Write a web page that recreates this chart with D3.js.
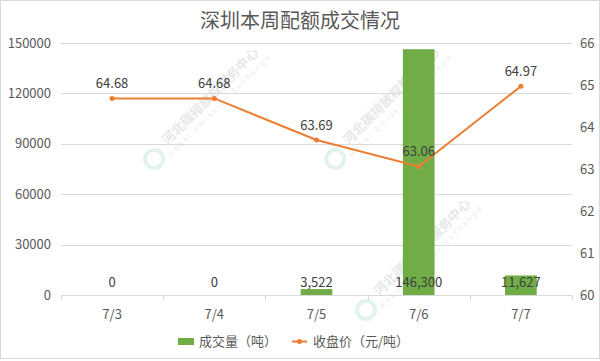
<!DOCTYPE html>
<html><head><meta charset="utf-8">
<script src="https://cdn.jsdelivr.net/npm/d3@7/dist/d3.min.js"></script>
<style>body{margin:0;background:#fff}svg{display:block}</style>
</head><body>
<svg id="c" width="600" height="361"></svg>
<script>
const categories = ["7/3","7/4","7/5","7/6","7/7"];
const volume = [0, 0, 3522, 146300, 11627];
const price = [64.68, 64.68, 63.69, 63.06, 64.97];
const leftTicks = [0, 30000, 60000, 90000, 120000, 150000];
const rightTicks = [60, 61, 62, 63, 64, 65, 66];
const title = "深圳本周配额成交情况";
const legendLabels = ["成交量（吨）", "收盘价（元/吨）"];

const svg = d3.select("#c");
const W = 600, H = 361;
const m = {l: 61, r: 28, t: 43, b: 66};
const font = "'Noto Sans CJK SC','Microsoft YaHei',sans-serif";

svg.append("rect").attr("x",0.5).attr("y",0.5).attr("width",W-1).attr("height",358).attr("fill","#fff").attr("stroke","#d9d9d9");

const x = d3.scaleBand().domain(categories).range([m.l, W-m.r]).paddingInner(0.69).paddingOuter(0.345);
const xb = d3.scaleBand().domain(categories).range([m.l, W-m.r]);
const yL = d3.scaleLinear().domain([0,150000]).range([H-m.b, m.t]);
const yR = d3.scaleLinear().domain([60,66]).range([H-m.b, m.t]);

// watermarks
const wm = [[210,96],[391,96],[422,247]];
wm.forEach(([cx,cy])=>{
  const g = svg.append("g").attr("transform",`translate(${cx},${cy}) rotate(-45)`).attr("opacity",0.6);
  g.append("text").attr("x",0).attr("y",5).attr("text-anchor","middle").attr("font-family",font).attr("font-size",13).attr("font-weight","bold").attr("fill","#d4d8da").text("河北碳排放权服务中心");
  g.append("text").attr("x",0).attr("y",16).attr("text-anchor","middle").attr("font-family","'DejaVu Sans',sans-serif").attr("font-size",7.5).attr("letter-spacing",2).attr("fill","#dadfe1").text("Hebei Emission Exchange");
  g.append("circle").attr("cx",-84).attr("cy",5).attr("r",9).attr("fill","none").attr("stroke","#cfeae0").attr("stroke-width",4);
});

// gridlines
svg.append("g").selectAll("line").data(leftTicks.slice(1)).join("line")
  .attr("x1",m.l).attr("x2",W-m.r).attr("y1",d=>Math.round(yL(d))+0.5).attr("y2",d=>Math.round(yL(d))+0.5)
  .attr("stroke","#d9d9d9").attr("stroke-width",1);

// x axis
const gx = svg.append("g").attr("transform",`translate(0,${Math.round(yL(0))+0.5})`);
gx.append("line").attr("x1",m.l).attr("x2",W-m.r).attr("stroke","#d9d9d9");
gx.selectAll("line.tk").data(d3.range(categories.length+1)).join("line").attr("class","tk")
  .attr("x1",i=>Math.round(m.l+i*xb.step())+0.5).attr("x2",i=>Math.round(m.l+i*xb.step())+0.5)
  .attr("y1",0).attr("y2",5).attr("stroke","#d9d9d9");
gx.selectAll("text.cl").data(categories).join("text").attr("class","cl")
  .attr("x",d=>xb(d)+xb.bandwidth()/2).attr("y",23).attr("text-anchor","middle")
  .attr("font-family",font).attr("font-size",13).attr("fill","#595959").text(d=>d);

// left axis labels
const yLA = d3.axisLeft(yL).tickValues(leftTicks).tickSize(0).tickPadding(10).tickFormat(d3.format("d"));
const gyl = svg.append("g").attr("transform",`translate(${m.l},0)`).call(yLA);
gyl.select(".domain").remove();
gyl.selectAll("text").attr("font-family",font).attr("font-size",13).attr("fill","#595959");

const yRA = d3.axisRight(yR).tickValues(rightTicks).tickSize(0).tickPadding(8).tickFormat(d3.format("d"));
const gyr = svg.append("g").attr("transform",`translate(${W-m.r},0)`).call(yRA);
gyr.select(".domain").remove();
gyr.selectAll("text").attr("font-family",font).attr("font-size",13).attr("fill","#595959");

// bars
svg.append("g").selectAll("rect").data(volume).join("rect")
  .attr("x",(d,i)=>x(categories[i])).attr("width",x.bandwidth())
  .attr("y",d=>yL(d)).attr("height",d=>yL(0)-yL(d)).attr("fill","#70ad47");

// bar labels
const fmt = d3.format(",");
svg.append("g").selectAll("text").data(volume).join("text")
  .attr("x",(d,i)=>xb(categories[i])+xb.bandwidth()/2).attr("y",yL(0)-8)
  .attr("text-anchor","middle").attr("font-family",font).attr("font-size",13).attr("fill","#404040")
  .text(d=>fmt(d));

// line
const cx = (i)=>xb(categories[i])+xb.bandwidth()/2;
svg.append("path").datum(price)
  .attr("d",d3.line().x((d,i)=>cx(i)).y(d=>yR(d)))
  .attr("fill","none").attr("stroke","#ed7d31").attr("stroke-width",2);
svg.append("g").selectAll("circle").data(price).join("circle")
  .attr("cx",(d,i)=>cx(i)).attr("cy",d=>yR(d)).attr("r",2.5).attr("fill","#ed7d31");
svg.append("g").selectAll("text").data(price).join("text")
  .attr("x",(d,i)=>cx(i)).attr("y",d=>yR(d)-10)
  .attr("text-anchor","middle").attr("font-family",font).attr("font-size",13).attr("fill","#404040")
  .text(d=>d.toFixed(2));

// title
svg.append("text").attr("x",W/2).attr("y",28).attr("text-anchor","middle")
  .attr("font-family",font).attr("font-size",20).attr("fill","#595959").text(title);

// legend
const lg = svg.append("g");
lg.append("rect").attr("x",178).attr("y",338).attr("width",16).attr("height",7).attr("fill","#70ad47");
lg.append("text").attr("x",199).attr("y",346).attr("font-family",font).attr("font-size",13).attr("fill","#595959").text(legendLabels[0]);
lg.append("line").attr("x1",292).attr("x2",307).attr("y1",341.5).attr("y2",341.5).attr("stroke","#ed7d31").attr("stroke-width",2);
lg.append("circle").attr("cx",299.5).attr("cy",341.5).attr("r",2.5).attr("fill","#ed7d31");
lg.append("text").attr("x",313).attr("y",346).attr("font-family",font).attr("font-size",13).attr("fill","#595959").text(legendLabels[1]);
</script>
</body></html>
